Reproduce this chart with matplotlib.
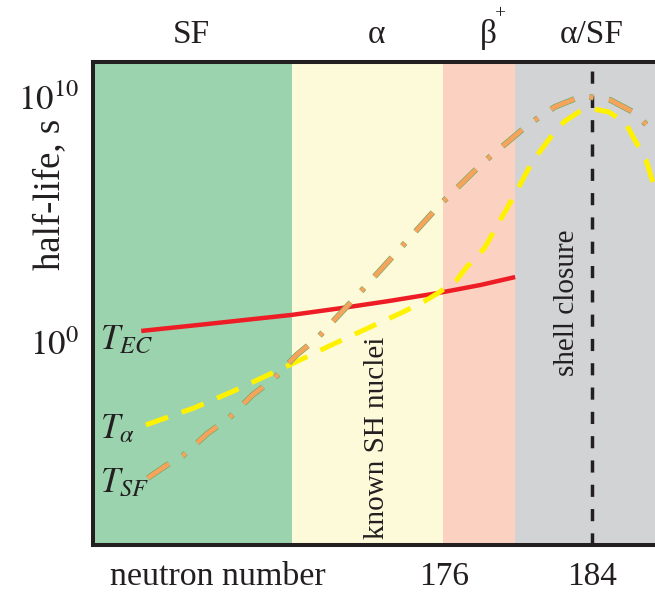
import matplotlib
matplotlib.use("Agg")
import matplotlib.pyplot as plt
import matplotlib.patheffects as pe
from matplotlib.ticker import FixedLocator, FixedFormatter
import numpy as np

plt.rcParams["font.family"] = ["Liberation Serif", "DejaVu Serif"]
plt.rcParams["mathtext.fontset"] = "stix"

# decay-mode regions along the neutron number axis
region_edges = [157.1, 167.8, 175.95, 179.85, 190.0]
region_colors = ["#9BD3AE", "#FDFAD9", "#FBD2C1", "#D2D3D5"]
region_names = ["SF", "α", "β", "α/SF"]
region_label_x = [162.4, 172.4, 178.4, 184.0]

shell_closure_n = 184

# electron-capture half-life (log10 seconds)
n_ec = [159.7, 163.0, 167.8, 170.5, 173.0, 175.7, 178.0, 179.85]
log_t_ec = [0.49, 0.75, 1.14, 1.42, 1.70, 2.03, 2.36, 2.68]

# alpha-decay half-life (log10 seconds)
n_alpha = [159.95, 162.54, 164.54, 166.54, 168.49, 169.95, 171.9, 173.7, 174.9,
           175.7, 176.7, 177.2, 178.2, 179.2, 179.7, 180.3, 180.8, 181.8, 182.5,
           183.3, 184.0, 184.9, 185.8, 186.3, 186.9, 187.4, 188.0]
log_t_alpha = [-3.33, -2.64, -2.0, -1.30, -0.61, -0.08, 0.60, 1.22, 1.67,
               2.03, 2.56, 3.05, 3.86, 5.2, 5.85, 6.7, 7.4, 8.4, 9.0,
               9.4, 9.52, 9.39, 8.94, 8.25, 7.44, 6.22, 4.8]

# spontaneous-fission half-life (log10 seconds)
n_sf = [160.05, 161.0, 161.93, 163.28, 164.43, 165.7, 166.88, 168.05, 169.24,
        171.46, 173.62, 175.78, 178.1, 180.6, 182.0, 183.46, 184.97, 186.3,
        187.2, 187.5, 188.5]
log_t_sf = [-5.49, -5.0, -4.59, -3.67, -3.05, -2.11, -1.43, -0.5, 0.24,
            2.03, 3.82, 5.61, 7.32, 8.9, 9.6, 10.04, 9.88, 9.35,
            8.66, 8.33, 7.3]

x_ticks = [176, 184]
x_tick_labels = ["176", "184"]
y_ticks = [1e0, 1e10]
y_tick_labels = [r"$10^{0}$", r"$10^{10}$"]

W, H = 655, 592
fig = plt.figure(figsize=(W / 100, H / 100), dpi=100)
ax = fig.add_axes([93 / W, 47 / H, (703.5 - 93) / W, (545 - 62) / H])

for left, right, col in zip(region_edges[:-1], region_edges[1:], region_colors):
    ax.axvspan(left, right, color=col, lw=0, zorder=0)

ax.set_xlim(region_edges[0], region_edges[-1])
ax.set_yscale("log")
ax.set_ylim(10 ** -8.21, 10 ** 11.42)

ax.axvline(shell_closure_n, color="#231f20", lw=2.5, dashes=(3.5, 3.5), zorder=2)

ax.plot(n_ec, 10.0 ** np.array(log_t_ec), color="#EE1C25", lw=3.2,
        solid_capstyle="butt", zorder=3)
ax.plot(n_alpha, 10.0 ** np.array(log_t_alpha), color="#FFF200", lw=3.6,
        dashes=(4.7, 2.9), zorder=4)
ax.plot(n_sf, 10.0 ** np.array(log_t_sf), color="#F6A35B", lw=3.3,
        dashes=(5.6, 3.4, 0.9, 3.4), zorder=5,
        path_effects=[pe.Stroke(linewidth=4.2, foreground="#6BAA66"), pe.Normal()])

# axes frame
for side in ["top", "left", "bottom"]:
    ax.spines[side].set_linewidth(2.9)
    ax.spines[side].set_color("#231f20")
    ax.spines[side].set_zorder(6)
ax.spines["right"].set_visible(False)

ax.xaxis.set_major_locator(FixedLocator(x_ticks))
ax.xaxis.set_major_formatter(FixedFormatter(x_tick_labels))
ax.yaxis.set_major_locator(FixedLocator(y_ticks))
ax.yaxis.set_major_formatter(FixedFormatter(y_tick_labels))
ax.yaxis.set_minor_locator(FixedLocator([]))
ax.tick_params(axis="x", length=0, pad=12, labelsize=24, colors="#231f20")
ax.tick_params(axis="y", length=0, pad=10, labelsize=25, colors="#231f20")

xt = ax.get_xaxis_transform()
ax.text(163.8, -0.066, "neutron number", transform=xt, ha="center", va="center",
        fontsize=24.5, color="#231f20")

for name, xpos in zip(region_names, region_label_x):
    ax.text(xpos, 1.056, name, transform=xt, ha="center", va="center",
            fontsize=24, color="#231f20", clip_on=False)
ax.text(region_label_x[2] + 0.3, 1.1, "+", transform=xt, ha="left", va="center",
        fontsize=14, color="#231f20", clip_on=False)

fig.text(50 / W, 1 - 194 / H, "half-life, s", rotation=90, ha="center", va="center",
         fontsize=26.5, color="#231f20")

ax.text(172.4, 10 ** -3.85, "known SH nuclei", rotation=90, ha="center", va="center",
        fontsize=21, color="#231f20", zorder=6)
ax.text(182.65, 10 ** 1.63, "shell closure", rotation=90, ha="center", va="center",
        fontsize=21, color="#231f20", zorder=6)

ax.text(157.5, 10 ** -0.24, r"$T_{EC}$", ha="left", va="baseline", fontsize=25,
        color="#231f20", zorder=6)
ax.text(157.5, 10 ** -3.86, r"$T_{\alpha}$", ha="left", va="baseline", fontsize=25,
        color="#231f20", zorder=6)
ax.text(157.5, 10 ** -6.06, r"$T_{SF}$", ha="left", va="baseline", fontsize=25,
        color="#231f20", zorder=6)

fig.savefig("out.png", dpi=100)
